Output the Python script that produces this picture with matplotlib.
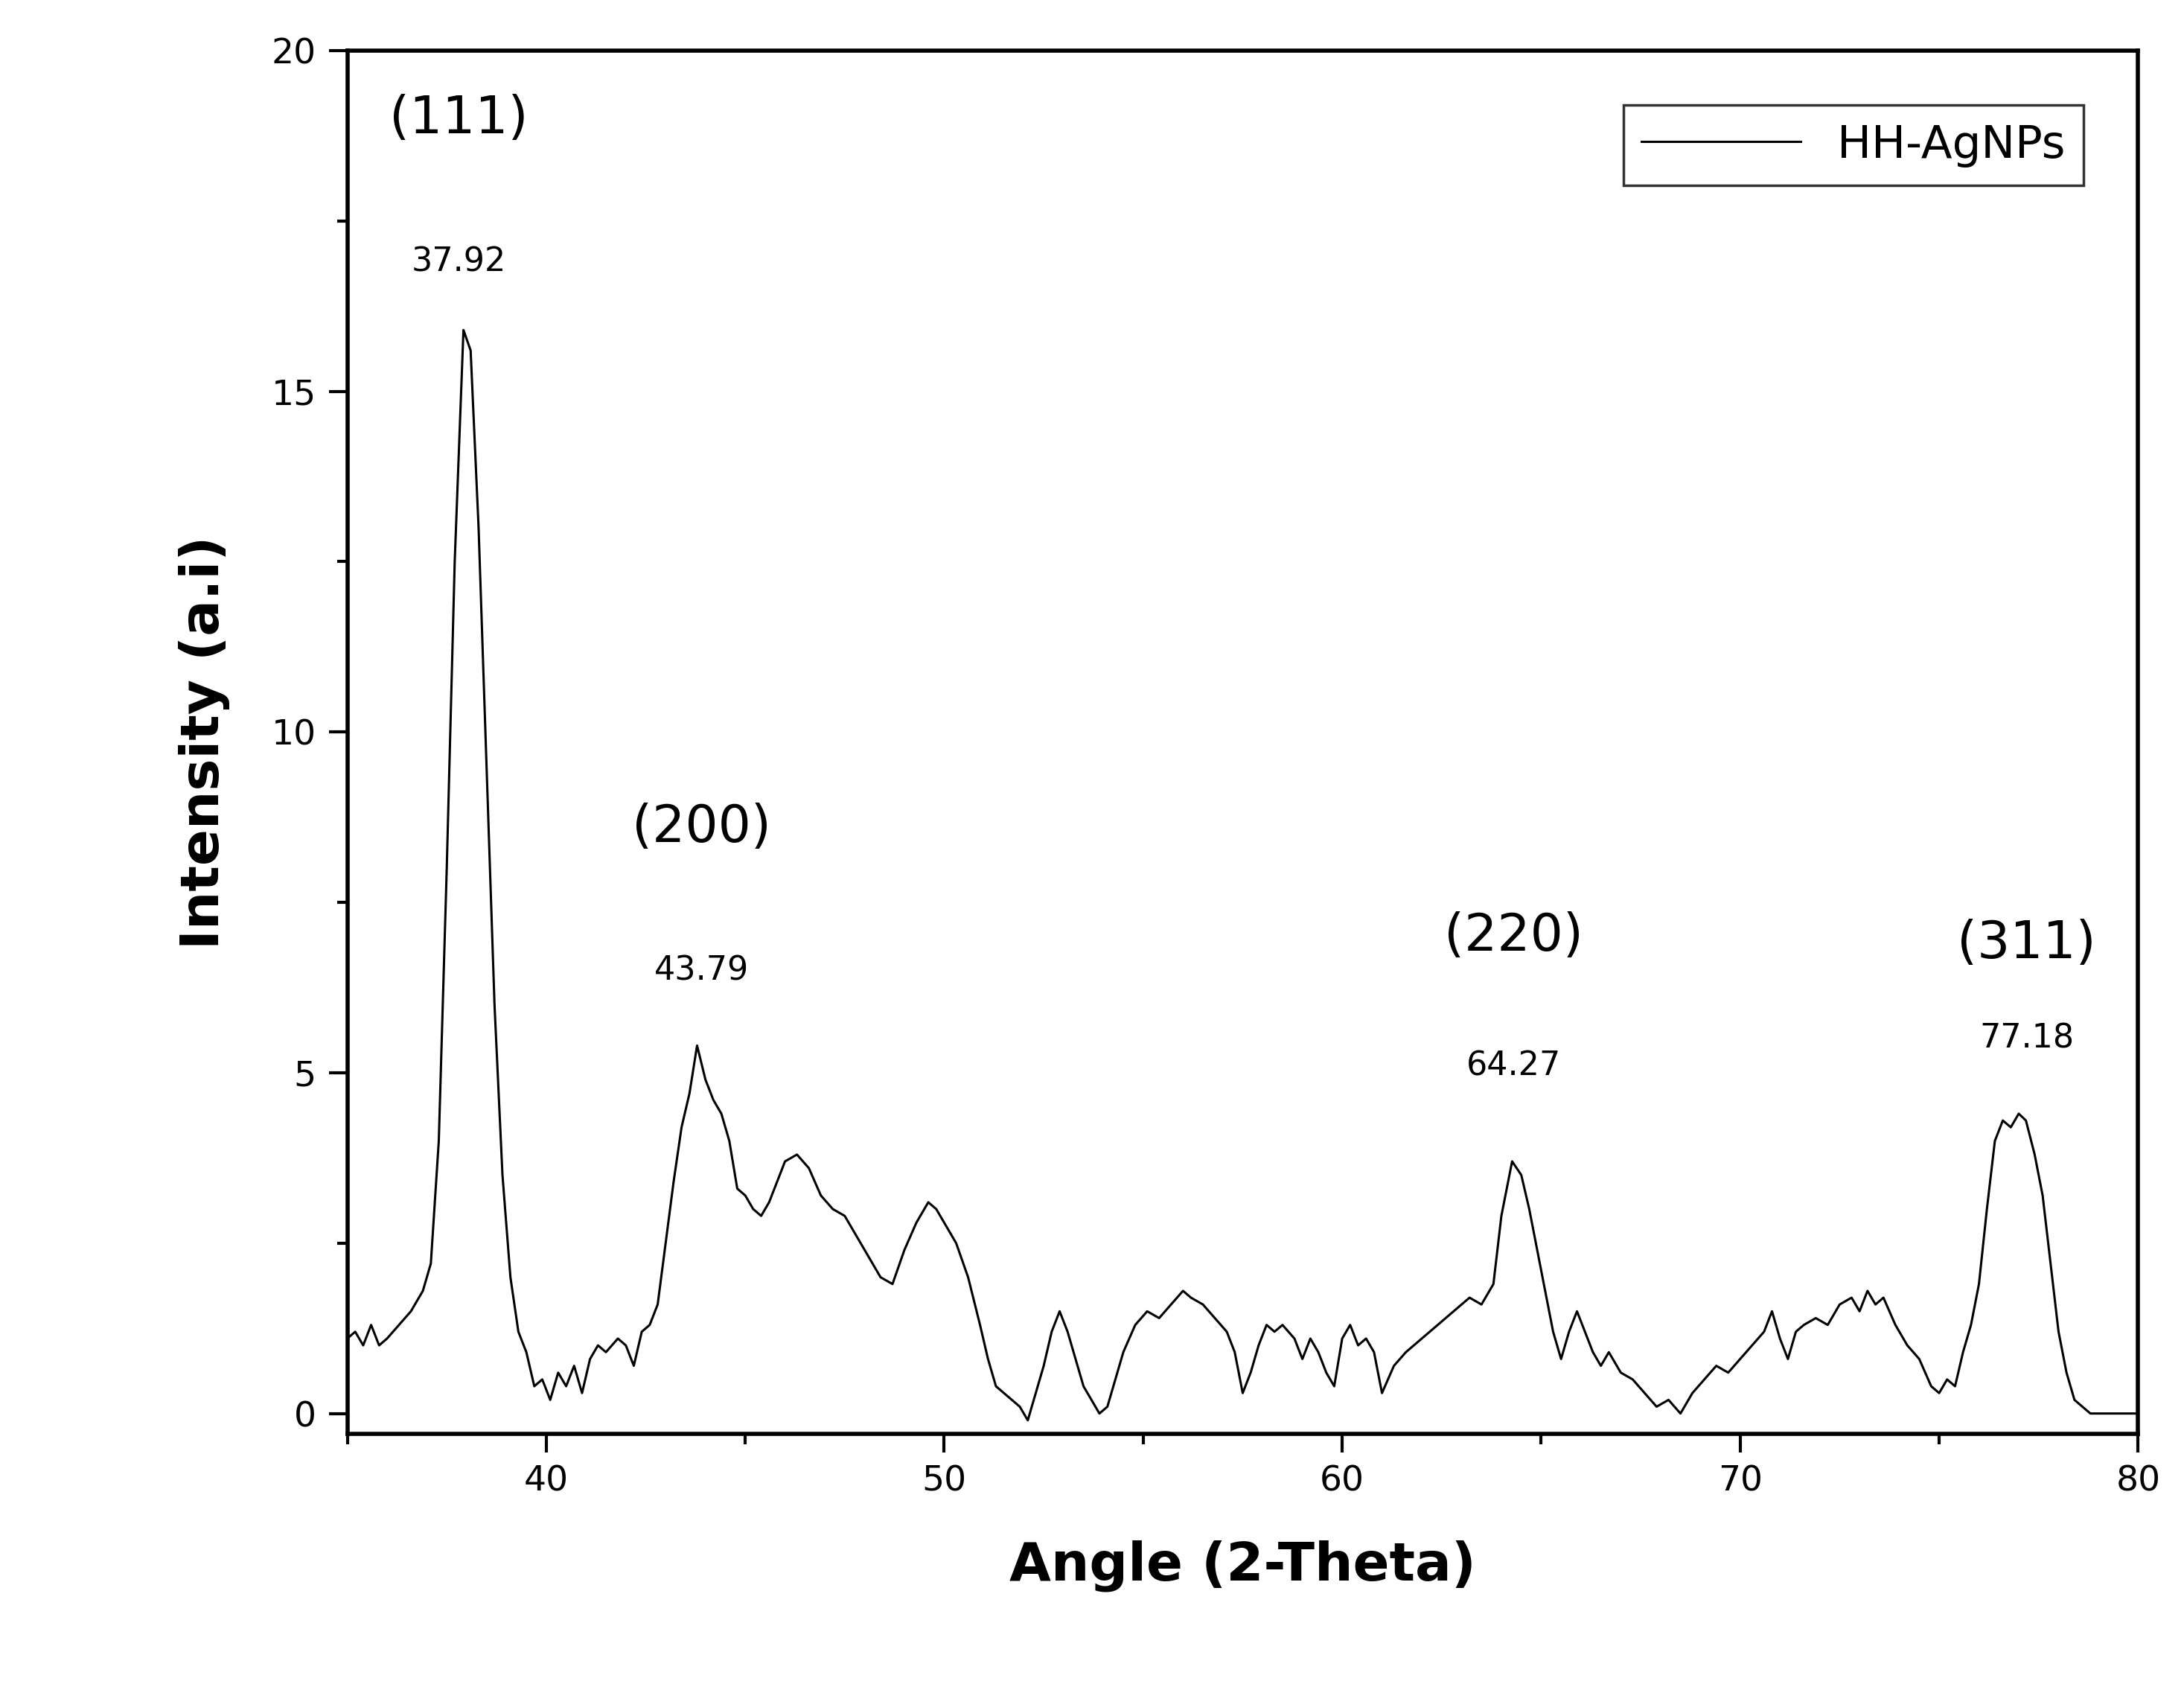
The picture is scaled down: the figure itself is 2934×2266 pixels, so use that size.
import matplotlib
matplotlib.use("Agg")
import matplotlib.pyplot as plt

points = [(35.0,1.1),(35.2,1.2),(35.4,1.0),(35.6,1.3),(35.8,1.0),(36.0,1.1),(36.3,1.3),(36.6,1.5),
(36.9,1.8),(37.1,2.2),(37.3,4.0),(37.5,8.0),(37.7,12.5),(37.92,15.9),(38.1,15.6),(38.3,13.0),
(38.5,9.5),(38.7,6.0),(38.9,3.5),(39.1,2.0),(39.3,1.2),(39.5,0.9),(39.7,0.4),(39.9,0.5),
(40.1,0.2),(40.3,0.6),(40.5,0.4),(40.7,0.7),(40.9,0.3),(41.1,0.8),(41.3,1.0),(41.5,0.9),
(41.8,1.1),(42.0,1.0),(42.2,0.7),(42.4,1.2),(42.6,1.3),(42.8,1.6),(43.0,2.5),(43.2,3.4),
(43.4,4.2),(43.6,4.7),(43.79,5.4),(44.0,4.9),(44.2,4.6),(44.4,4.4),(44.6,4.0),(44.8,3.3),
(45.0,3.2),(45.2,3.0),(45.4,2.9),(45.6,3.1),(45.8,3.4),(46.0,3.7),(46.3,3.8),(46.6,3.6),
(46.9,3.2),(47.2,3.0),(47.5,2.9),(47.8,2.6),(48.1,2.3),(48.4,2.0),(48.7,1.9),(49.0,2.4),
(49.3,2.8),(49.6,3.1),(49.8,3.0),(50.0,2.8),(50.3,2.5),(50.6,2.0),(50.9,1.3),(51.1,0.8),
(51.3,0.4),(51.5,0.3),(51.7,0.2),(51.9,0.1),(52.1,-0.1),(52.3,0.3),(52.5,0.7),(52.7,1.2),
(52.9,1.5),(53.1,1.2),(53.3,0.8),(53.5,0.4),(53.7,0.2),(53.9,0.0),(54.1,0.1),(54.3,0.5),
(54.5,0.9),(54.8,1.3),(55.1,1.5),(55.4,1.4),(55.7,1.6),(56.0,1.8),(56.2,1.7),(56.5,1.6),
(56.8,1.4),(57.1,1.2),(57.3,0.9),(57.5,0.3),(57.7,0.6),(57.9,1.0),(58.1,1.3),(58.3,1.2),
(58.5,1.3),(58.8,1.1),(59.0,0.8),(59.2,1.1),(59.4,0.9),(59.6,0.6),(59.8,0.4),(60.0,1.1),
(60.2,1.3),(60.4,1.0),(60.6,1.1),(60.8,0.9),(61.0,0.3),(61.3,0.7),(61.6,0.9),(62.0,1.1),
(62.4,1.3),(62.8,1.5),(63.2,1.7),(63.5,1.6),(63.8,1.9),(64.0,2.9),(64.27,3.7),(64.5,3.5),
(64.7,3.0),(64.9,2.4),(65.1,1.8),(65.3,1.2),(65.5,0.8),(65.7,1.2),(65.9,1.5),(66.1,1.2),
(66.3,0.9),(66.5,0.7),(66.7,0.9),(67.0,0.6),(67.3,0.5),(67.6,0.3),(67.9,0.1),(68.2,0.2),
(68.5,0.0),(68.8,0.3),(69.1,0.5),(69.4,0.7),(69.7,0.6),(70.0,0.8),(70.3,1.0),(70.6,1.2),
(70.8,1.5),(71.0,1.1),(71.2,0.8),(71.4,1.2),(71.6,1.3),(71.9,1.4),(72.2,1.3),(72.5,1.6),
(72.8,1.7),(73.0,1.5),(73.2,1.8),(73.4,1.6),(73.6,1.7),(73.9,1.3),(74.2,1.0),(74.5,0.8),
(74.8,0.4),(75.0,0.3),(75.2,0.5),(75.4,0.4),(75.6,0.9),(75.8,1.3),(76.0,1.9),(76.2,3.0),
(76.4,4.0),(76.6,4.3),(76.8,4.2),(77.0,4.4),(77.18,4.3),(77.4,3.8),(77.6,3.2),(77.8,2.2),
(78.0,1.2),(78.2,0.6),(78.4,0.2),(78.6,0.1),(78.8,0.0),(79.0,0.0),(79.3,0.0),(79.6,0.0),(80.0,0.0)]
angle = [p[0] for p in points]
intensity = [p[1] for p in points]

peak_labels = ["(111)", "(200)", "(220)", "(311)"]
peak_pos = ["37.92", "43.79", "64.27", "77.18"]
label_x = [37.8, 43.9, 64.3, 77.2]
hkl_y = [19.0, 8.6, 7.0, 6.9]
pos_y = [16.9, 6.5, 5.1, 5.5]

fig = plt.figure(figsize=(29.34, 22.66), dpi=100)
ax = fig.add_axes([0.159, 0.150, 0.820, 0.820])
ax.plot(angle, intensity, color="black", lw=2.2, label="HH-AgNPs")
ax.set_xlim(35, 80)
ax.set_ylim(-0.3, 20)
ax.set_xticks([40, 50, 60, 70, 80])
ax.set_yticks([0, 5, 10, 15, 20])
ax.set_xticks(range(35, 81, 5), minor=True)
ax.set_yticks([2.5, 7.5, 12.5, 17.5], minor=True)
ax.tick_params(which="major", length=18, width=3, labelsize=34, pad=12)
ax.tick_params(which="minor", length=10, width=3)
for s in ax.spines.values():
    s.set_linewidth(4)
ax.set_xlabel("Angle (2-Theta)", fontsize=52, fontweight="bold", labelpad=40)
ax.set_ylabel("Intensity (a.i)", fontsize=52, fontweight="bold", labelpad=40)
for t, p, x, y1, y2 in zip(peak_labels, peak_pos, label_x, hkl_y, pos_y):
    ax.text(x, y1, t, fontsize=50, ha="center", va="center")
    ax.text(x, y2, p, fontsize=32, ha="center", va="center")
leg = ax.legend(loc="upper right", fontsize=44, fancybox=False, edgecolor="black",
                handlelength=3.5, borderaxespad=1.2)
leg.get_frame().set_linewidth(2.5)
fig.savefig("out.png", dpi=100)
